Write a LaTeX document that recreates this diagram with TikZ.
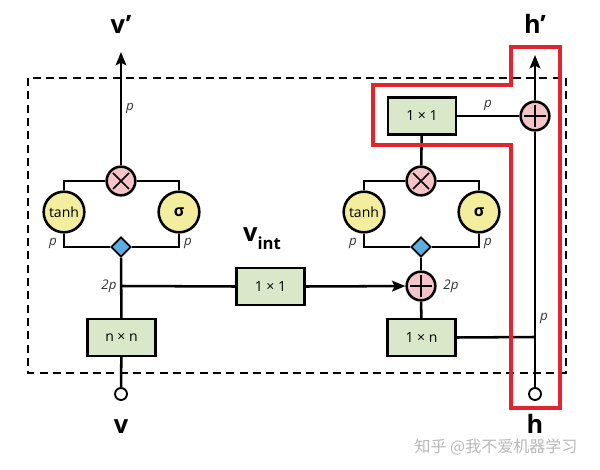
\documentclass[tikz,border=0pt]{standalone}
\usepackage{fontspec}
\setmainfont{Open Sans}
\newfontfamily\cjk{Noto Sans CJK SC}
\usetikzlibrary{shapes.geometric,arrows.meta}
\definecolor{boxgreen}{HTML}{D8E8C8}
\definecolor{pinkc}{HTML}{F5C3C8}
\definecolor{yellowc}{HTML}{F2EE9E}
\definecolor{bluec}{HTML}{5AAEE2}
\definecolor{redc}{HTML}{E0252F}
\begin{document}
\begin{tikzpicture}[x=0.75pt,y=-0.75pt,
  line width=1.9pt,
  box/.style={draw, fill=boxgreen, minimum width=51pt, minimum height=27.5pt, inner sep=0pt, font=\fontsize{10.5}{12}\selectfont},
  mult/.style={circle, draw, fill=pinkc, minimum size=21.5pt, inner sep=0pt,
    path picture={\draw[line width=1.1pt] (path picture bounding box.center) +(-6pt,-6pt) -- +(6pt,6pt) +(-6pt,6pt) -- +(6pt,-6pt);}},
  addc/.style={circle, draw, fill=pinkc, minimum size=21.5pt, inner sep=0pt,
    path picture={\draw[line width=1.1pt] (path picture bounding box.center) +(-8.5pt,0) -- +(8.5pt,0) +(0,-8.5pt) -- +(0,8.5pt);}},
  gate/.style={circle, draw, fill=yellowc, minimum size=30.5pt, inner sep=0pt, font=\fontsize{10.5}{12}\selectfont},
  dia/.style={diamond, draw, fill=bluec, minimum size=15pt, inner sep=0pt, line width=1.4pt},
  inp/.style={circle, draw, fill=white, minimum size=9pt, inner sep=0pt, line width=1.4pt},
  big/.style={font=\fontsize{19}{20}\selectfont\bfseries, inner sep=0pt, anchor=base},
  lab/.style={font=\fontsize{10}{12}\selectfont\itshape, inner sep=0pt, text=black!80},
  arr/.style={-{Stealth[length=10pt,width=8pt,inset=2pt]}},
  dashbox/.style={draw, line width=2.1pt, dash pattern=on 6pt off 4pt},
  redline/.style={draw=redc, line width=2.7pt}
]
\useasboundingbox (0,0) rectangle (600,470);

% dashed box
\draw[dashbox] (28,78) rectangle (566,373);

% ---------- left column ----------
\node[gate] (tanhL) at (64,212) {tanh};
\node[gate] (sigL) at (179,212) {\fontsize{12}{12}\selectfont\bfseries σ};
\node[mult] (mulL) at (121,181) {};
\node[dia] (diaL) at (121,247) {};
\node[box] (nn) at (121.5,337.5) {n × n};
\node[inp] (inL) at (121,394) {};
\coordinate (topL) at (121,52);
\coordinate (jL) at (121,286);
\node[big] (vout) at (121,34) {v’};
\node[big] (vin) at (121,433) {v};

\draw (tanhL.north) |- (mulL.west);
\draw (sigL.north) |- (mulL.east);
\draw (tanhL.south) |- (diaL.west);
\draw (sigL.south) |- (diaL.east);
\draw[arr] (mulL) -- (topL);
\draw (diaL) -- (nn);
\draw (nn) -- (inL);

\node[lab] (pL0) at (130,108) {p};
\node[lab] (pL1) at (53,243) {p};
\node[lab] (pL2) at (188,243) {p};
\node[lab] (pL3) at (109,286) {2p};

% ---------- middle ----------
\node[box] (mid) at (270.5,286.5) {1 × 1};
\node[big] (vint) at (262,242) {v\raisebox{-6pt}{\fontsize{12.5}{12}\selectfont int}};
\draw (jL) -- (mid.west);

% ---------- right column ----------
\node[gate] (tanhR) at (364,212) {tanh};
\node[gate] (sigR) at (479,212) {\fontsize{12}{12}\selectfont\bfseries σ};
\node[mult] (mulR) at (421,181) {};
\node[dia] (diaR) at (421,247) {};
\node[addc] (addR) at (421,286) {};
\node[box] (oneN) at (421.5,337.5) {1 × n};
\node[box] (topbox) at (422,116) {1 × 1};
\node[addc] (addH) at (535,116) {};
\node[inp] (inH) at (535,394) {};
\coordinate (jH) at (535,337);
\coordinate (topH) at (535,55);
\node[big] (hout) at (535,34) {h’};
\node[big] (hin) at (535,433) {h};

\draw (tanhR.north) |- (mulR.west);
\draw (sigR.north) |- (mulR.east);
\draw (tanhR.south) |- (diaR.west);
\draw (sigR.south) |- (diaR.east);
\draw (diaR) -- (addR);
\draw (addR) -- (oneN);
\draw[arr] (mid.east) -- (addR);
\draw (oneN.east) -- (jH);
\draw (inH) -- (addH);
\draw[arr] (addH) -- (topH);
\draw (topbox) -- (addH);
\draw (mulR) -- (topbox);

\node[lab] (pR1) at (353,243) {p};
\node[lab] (pR2) at (488,243) {p};
\node[lab] (pR3) at (451,286) {2p};
\node[lab] (pR4) at (488,105) {p};
\node[lab] (pR5) at (544,318) {p};

% red highlight
\draw[redline] (373,85) -- (511,85) -- (511,47) -- (560,47) -- (560,408) -- (511,408) -- (511,145) -- (373,145) -- cycle;

% watermark
\node[text=black!28, font=\cjk\fontsize{12}{12}\selectfont, inner sep=0pt] (wm) at (496,447) {知乎 @我不爱机器学习};
\end{tikzpicture}
\end{document}
